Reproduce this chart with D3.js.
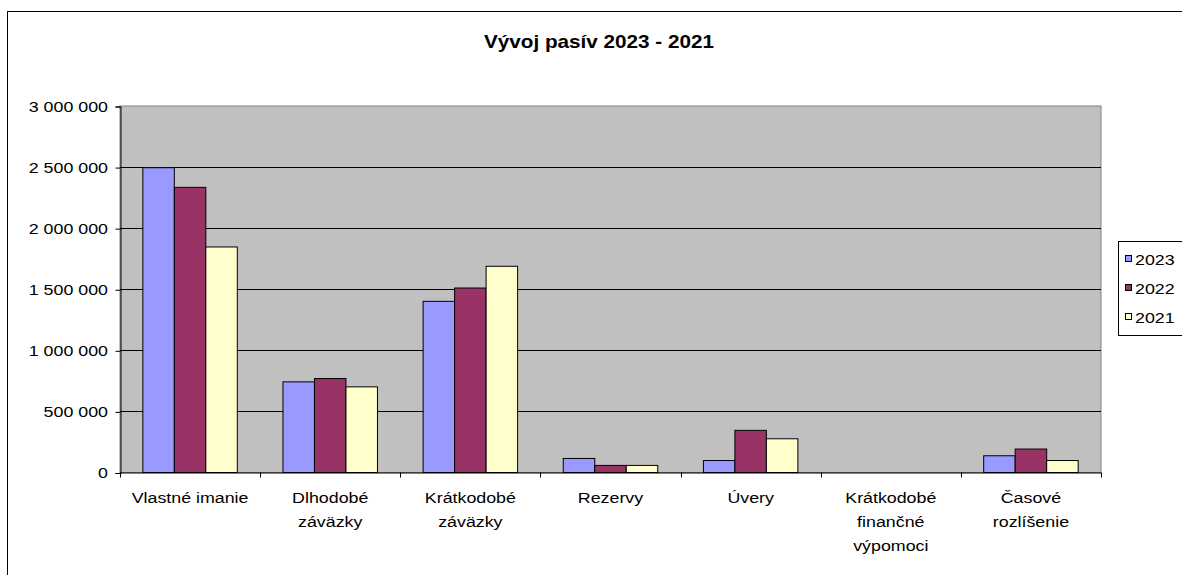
<!DOCTYPE html>
<html><head><meta charset="utf-8">
<script src="https://cdn.jsdelivr.net/npm/d3@7"></script>
<style>body{margin:0;background:#fff}svg{display:block}text{font-family:"Liberation Sans",Arial,sans-serif;fill:#000}</style>
</head><body>
<svg id="c" width="1182" height="575"></svg>
<script>
const title = "Vývoj pasív 2023 - 2021";
const categories = ["Vlastné imanie","Dlhodobé záväzky","Krátkodobé záväzky","Rezervy","Úvery","Krátkodobé finančné výpomoci","Časové rozlíšenie"];
const seriesNames = ["2023","2022","2021"];
const values2023 = [2495000, 742000, 1401000, 115000, 98000, 0, 137000];
const values2022 = [2334000, 769000, 1510000, 58000, 345000, 0, 192000];
const values2021 = [1846000, 701000, 1688000, 58000, 276000, 0, 98000];
const yTicks = [0, 500000, 1000000, 1500000, 2000000, 2500000, 3000000];
const colors = ["#9999FF","#993366","#FFFFCC"];

const series = [values2023, values2022, values2021];
const SX = 1.15, FS = 15.5;
const svg = d3.select("#c");
const L = 120, R = 1101, T = 106, B = 472.5;

// outer chart border
svg.append("rect").attr("x",7.5).attr("y",11.5).attr("width",1200).attr("height",600)
  .attr("fill","#fff").attr("stroke","#000").attr("stroke-width",1);

const x = d3.scaleBand().domain(categories).range([L,R]).padding(0);
const gapRatio = 1.45;
const bw = x.bandwidth()/(3+gapRatio);
const xi = d3.scaleBand().domain(seriesNames).range([bw*gapRatio/2, x.bandwidth()-bw*gapRatio/2]).padding(0);
const y = d3.scaleLinear().domain([0,3000000]).range([B,T]);

function stext(sel, tx, ty, anchor){
  return sel.append("text").attr("transform",`translate(${tx},${ty}) scale(${SX},1)`)
    .attr("text-anchor",anchor).attr("font-size",FS);
}

// plot area
svg.append("rect").attr("x",L).attr("y",T).attr("width",R-L).attr("height",B-T)
  .attr("fill","#C0C0C0").attr("stroke","#808080").attr("stroke-width",1);

// gridlines
svg.append("g").selectAll("line").data(yTicks.filter(d=>d>0 && d<3000000)).join("line")
  .attr("x1",L).attr("x2",R).attr("y1",d=>Math.round(y(d))+0.5).attr("y2",d=>Math.round(y(d))+0.5)
  .attr("stroke","#000").attr("stroke-width",1);

// y axis
const yAxis = d3.axisLeft(y).tickValues(yTicks).tickSize(5).tickFormat(d=>d3.format(",")(d).replace(/,/g," "));
const gy = svg.append("g").attr("transform",`translate(${L+0.5},0.5)`).call(yAxis);
gy.select(".domain").attr("stroke","#000");
gy.selectAll(".tick line").attr("stroke","#000");
gy.selectAll(".tick text").remove();
yTicks.forEach(t=>{ stext(svg, 108, y(t)+5.5, "end").text(d3.format(",")(t).replace(/,/g," ")); });

// bars
const g = svg.append("g");
categories.forEach((c,ci)=>{
  series.forEach((s,si)=>{
    const v = s[ci];
    if(v<=0) return;
    g.append("rect").attr("x",x(c)+xi(seriesNames[si])).attr("y",y(v))
      .attr("width",xi.bandwidth()).attr("height",y(0)-y(v))
      .attr("fill",colors[si]).attr("stroke","#000").attr("stroke-width",1);
  });
});

// x axis
svg.append("line").attr("x1",L).attr("x2",R).attr("y1",B+0.5).attr("y2",B+0.5).attr("stroke","#000");
const bounds = categories.map(c=>x(c)).concat([R]);
svg.append("g").selectAll("line").data(bounds).join("line")
  .attr("x1",d=>Math.round(d)+0.5).attr("x2",d=>Math.round(d)+0.5).attr("y1",B).attr("y2",B+5).attr("stroke","#000");

// category labels with wrapping
const maxW = x.bandwidth()-12;
categories.forEach(c=>{
  const cx = x(c)+x.bandwidth()/2;
  const words = c.split(" ");
  const lines = []; let cur = "";
  const meas = stext(svg,0,-100,"middle");
  words.forEach(w=>{
    const t = cur ? cur+" "+w : w;
    meas.text(t);
    if(cur && meas.node().getComputedTextLength()*SX > maxW){ lines.push(cur); cur = w; }
    else cur = t;
  });
  lines.push(cur); meas.remove();
  lines.forEach((ln,i)=> stext(svg, cx, 503+i*24, "middle").text(ln));
});

// title
svg.append("text").attr("transform",`translate(599,48) scale(${SX},1)`).attr("text-anchor","middle")
  .attr("font-size",18).attr("font-weight","bold").text(title);

// legend
svg.append("rect").attr("x",1118.5).attr("y",241.5).attr("width",100).attr("height",94)
  .attr("fill","#fff").attr("stroke","#000");
seriesNames.forEach((n,i)=>{
  const cy = 259 + i*29;
  svg.append("rect").attr("x",1125.5).attr("y",cy-3.5).attr("width",6).attr("height",6)
    .attr("fill",colors[i]).attr("stroke","#000");
  stext(svg, 1135, cy+5.5, "start").text(n);
});
</script>
</body></html>
